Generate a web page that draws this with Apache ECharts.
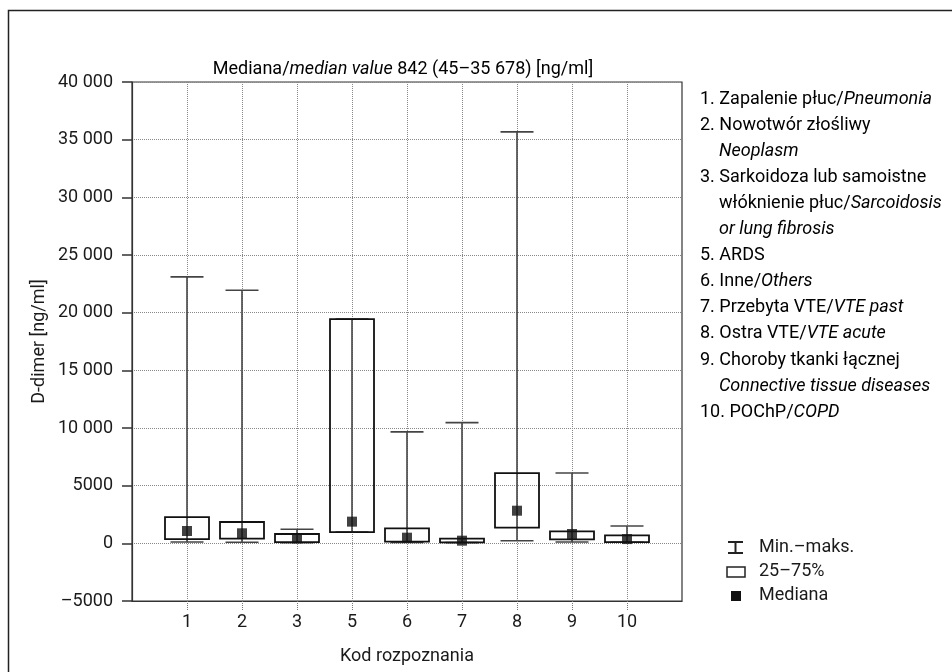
<!DOCTYPE html>
<html>
<head>
<meta charset="utf-8">
<title>D-dimer</title>
<script src="https://cdn.jsdelivr.net/npm/echarts@6/dist/echarts.min.js"></script>
<style>
  html, body { margin: 0; padding: 0; background: #fff; }
  #chart { width: 952px; height: 672px; }
</style>
</head>
<body>
<div id="chart"></div>
<script>
// kody rozpoznania (oś X)
var codes = ['1', '2', '3', '5', '6', '7', '8', '9', '10'];
// wartości D-dimer [ng/ml]
var minVals = [110, 100, 45, 980, 70, 60, 230, 120, 90];
var q1Vals = [370, 400, 110, 980, 140, 90, 1360, 350, 110];
var medianVals = [1070, 870, 430, 1880, 490, 230, 2830, 810, 370];
var q3Vals = [2280, 1850, 810, 19440, 1300, 400, 6080, 1040, 690];
var maxVals = [23100, 21950, 1220, 19440, 9660, 10470, 35678, 6100, 1500];
// opisy kodów (prawa strona)
var notes = [
  ['1. Zapalenie płuc/', 'Pneumonia', 0],
  ['2. Nowotwór złośliwy', '', 0],
  ['', 'Neoplasm', 1],
  ['3. Sarkoidoza lub samoistne', '', 0],
  ['włóknienie płuc/', 'Sarcoidosis', 1],
  ['', 'or lung fibrosis', 1],
  ['5. ARDS', '', 0],
  ['6. Inne/', 'Others', 0],
  ['7. Przebyta VTE/', 'VTE past', 0],
  ['8. Ostra VTE/', 'VTE acute', 0],
  ['9. Choroby tkanki łącznej', '', 0],
  ['', 'Connective tissue diseases', 1],
  ['10. POChP/', 'COPD', 0]
];

var FONT = 'Roboto, "Liberation Sans Narrow", sans-serif';
var FS = 18;
var TXT = '#1a1a1a';

// puste kategorie na brzegach osi
var xCats = [''].concat(codes).concat([' ']);

var boxData = codes.map(function (c, i) {
  return [c, minVals[i], q1Vals[i], medianVals[i], q3Vals[i], maxVals[i]];
});
var medData = codes.map(function (c, i) {
  return [c, medianVals[i]];
});

function fmtY(v) {
  if (v < 0) return '–' + Math.abs(v);
  if (v >= 10000) return String(v).replace(/\B(?=(\d{3})+$)/g, ' ');
  return String(v);
}

function rich(a, b) {
  var s = '';
  if (a) s += '{n|' + a + '}';
  if (b) s += '{i|' + b + '}';
  return s;
}
var richStyle = {
  n: { fontFamily: FONT, fontSize: FS, color: TXT },
  i: { fontFamily: FONT, fontSize: FS, color: TXT, fontStyle: 'italic' }
};

var graphics = [
  // ramka
  {
    type: 'rect', silent: true,
    shape: { x: 8.5, y: 10.5, width: 960, height: 700 },
    style: { fill: 'none', stroke: '#222', lineWidth: 1.5 }
  },
  // tytuł
  {
    type: 'text', x: 403, y: 69,
    style: {
      text: '{n|Mediana/}{i|median value}{n| 842 (45–35 678) [ng/ml]}',
      rich: richStyle, align: 'center', verticalAlign: 'middle'
    }
  }
];

notes.forEach(function (row, k) {
  graphics.push({
    type: 'text', x: row[2] ? 719 : 700, y: 99 + k * 26.1,
    style: { text: rich(row[0], row[1]), rich: richStyle, align: 'left', verticalAlign: 'middle' }
  });
});

// legenda symboli
graphics.push(
  { type: 'line', shape: { x1: 728, y1: 542, x2: 743, y2: 542 }, style: { stroke: '#222', lineWidth: 2 } },
  { type: 'line', shape: { x1: 728, y1: 553, x2: 743, y2: 553 }, style: { stroke: '#222', lineWidth: 2 } },
  { type: 'line', shape: { x1: 735.5, y1: 542, x2: 735.5, y2: 553 }, style: { stroke: '#222', lineWidth: 2 } },
  { type: 'rect', shape: { x: 727, y: 567, width: 18, height: 10 }, style: { fill: 'none', stroke: '#222', lineWidth: 1.5 } },
  { type: 'rect', shape: { x: 731, y: 591, width: 10, height: 10 }, style: { fill: '#111' } },
  { type: 'text', x: 759, y: 547, style: { text: 'Min.–maks.', font: FS + 'px ' + FONT, fill: TXT, verticalAlign: 'middle' } },
  { type: 'text', x: 759, y: 571, style: { text: '25–75%', font: FS + 'px ' + FONT, fill: TXT, verticalAlign: 'middle' } },
  { type: 'text', x: 759, y: 595, style: { text: 'Mediana', font: FS + 'px ' + FONT, fill: TXT, verticalAlign: 'middle' } }
);

var option = {
  backgroundColor: '#fff',
  animation: false,
  grid: {
    left: 132, top: 82, right: 270, bottom: 71,
    show: true, borderColor: '#333', borderWidth: 1.2,
    outerBoundsMode: 'none'
  },
  xAxis: {
    type: 'category',
    data: xCats,
    boundaryGap: false,
    name: 'Kod rozpoznania',
    nameLocation: 'middle',
    nameGap: 46,
    nameMoveOverlap: false,
    nameTextStyle: { fontFamily: FONT, fontSize: FS, color: TXT },
    axisLine: { onZero: false, lineStyle: { color: '#333', width: 1.2 } },
    axisTick: {
      length: 9,
      interval: function (i) { return i > 0 && i < xCats.length - 1; },
      lineStyle: { color: '#777', type: 'dotted' }
    },
    axisLabel: { margin: 12, fontFamily: FONT, fontSize: FS, color: TXT, interval: 0 },
    splitLine: {
      show: true,
      interval: function (i) { return i > 0 && i < xCats.length - 1; },
      lineStyle: { color: '#888', type: 'dotted', width: 1 }
    }
  },
  yAxis: {
    type: 'value',
    min: -5000, max: 40000, interval: 5000,
    name: 'D-dimer [ng/ml]',
    nameLocation: 'middle',
    nameGap: 84,
    nameMoveOverlap: false,
    nameTextStyle: { fontFamily: FONT, fontSize: FS, color: TXT },
    axisLine: { show: true, onZero: false, lineStyle: { color: '#333', width: 1.2 } },
    axisTick: { show: true, length: 10, lineStyle: { color: '#333', width: 1.5 } },
    axisLabel: { margin: 19, fontFamily: FONT, fontSize: FS, color: TXT, formatter: fmtY },
    splitLine: { show: true, lineStyle: { color: '#888', type: 'dotted', width: 1 } }
  },
  graphic: graphics,
  series: [
    {
      type: 'custom',
      name: 'box',
      data: boxData,
      encode: { x: 0, y: [1, 2, 3, 4, 5] },
      z: 3,
      renderItem: function (params, api) {
        var x = api.value(0);
        var pMin = api.coord([x, api.value(1)]);
        var pQ1 = api.coord([x, api.value(2)]);
        var pQ3 = api.coord([x, api.value(4)]);
        var pMax = api.coord([x, api.value(5)]);
        var band = api.size([1, 0])[0];
        var capHalf = band * 0.3;
        var boxHalf = band * 0.4;
        var cx = pMin[0];
        var wStyle = { stroke: '#444', lineWidth: 1.6 };
        return {
          type: 'group',
          children: [
            { type: 'line', shape: { x1: cx, y1: pMin[1], x2: cx, y2: pMax[1] }, style: wStyle },
            { type: 'line', shape: { x1: cx - capHalf, y1: pMin[1], x2: cx + capHalf, y2: pMin[1] }, style: wStyle },
            { type: 'line', shape: { x1: cx - capHalf, y1: pMax[1], x2: cx + capHalf, y2: pMax[1] }, style: wStyle },
            {
              type: 'rect',
              shape: { x: cx - boxHalf, y: pQ3[1], width: boxHalf * 2, height: pQ1[1] - pQ3[1] },
              style: { fill: 'none', stroke: '#111', lineWidth: 1.8 }
            }
          ]
        };
      }
    },
    {
      type: 'scatter',
      name: 'Mediana',
      data: medData,
      symbol: 'rect',
      symbolSize: 10,
      z: 4,
      itemStyle: { color: '#111' }
    }
  ]
};

var myChart = echarts.init(document.getElementById('chart'));
myChart.setOption(option);
window.addEventListener('resize', function () {
  myChart.resize();
});
</script>
</body>
</html>
